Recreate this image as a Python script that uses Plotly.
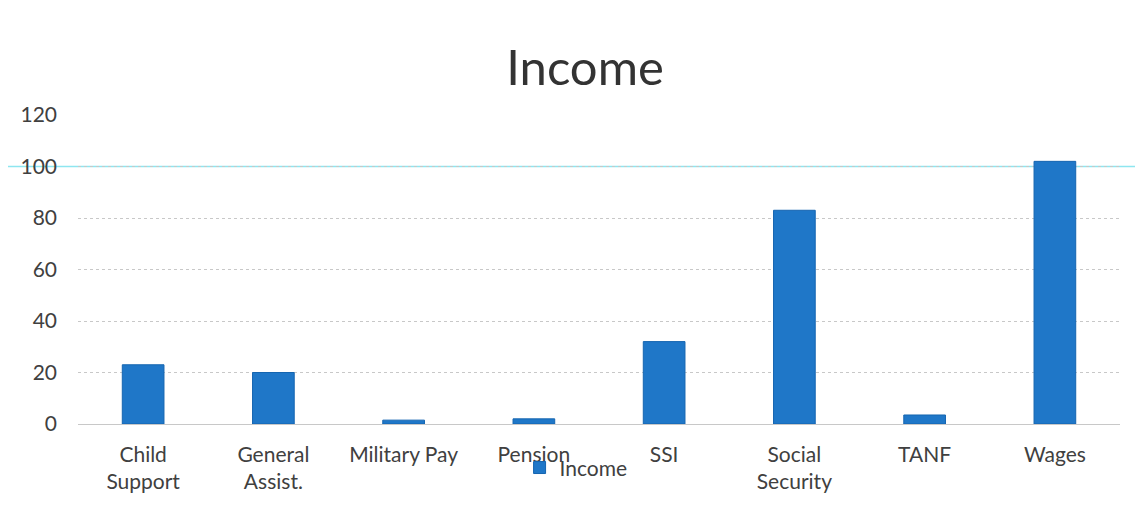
import plotly.graph_objects as go

categories = ["Child<br>Support", "General<br>Assist.", "Military Pay", "Pension",
              "SSI", "Social<br>Security", "TANF", "Wages"]
income = [23, 20, 1.5, 2, 32, 83, 3.5, 102]
y_ticks = [0, 20, 40, 60, 80, 100, 120]

font_family = "Lato, 'Open Sans', sans-serif"
txt = "#404040"

fig = go.Figure()
fig.add_trace(go.Bar(
    x=categories, y=income, name="Income",
    marker=dict(color="#1f77c8", line=dict(color="#1565b0", width=1)),
))

fig.update_layout(
    width=1127, height=497,
    margin=dict(l=62, r=15, t=107, b=81),
    paper_bgcolor="white", plot_bgcolor="white",
    font=dict(family=font_family, color=txt, size=21),
    title=dict(text="Income", x=0.512, xanchor="center", y=0.879, yanchor="middle",
               font=dict(size=49, color="#333333", family=font_family)),
    bargap=0.68,
    showlegend=True,
    legend=dict(orientation="h", x=0.478, xanchor="center", y=-0.142, yanchor="middle",
                font=dict(size=21, color=txt), bgcolor="rgba(0,0,0,0)",
                itemwidth=30),
    xaxis=dict(showgrid=False, showline=False, ticks="", tickfont=dict(size=21, color=txt),
               tickangle=0, ticklabelstandoff=16),
    yaxis=dict(range=[0, 120], tickvals=y_ticks, showgrid=True,
               gridcolor="#c8c8c8", griddash="dot", gridwidth=1,
               zeroline=True, zerolinecolor="#c8c8c8", zerolinewidth=1,
               showline=False, ticks="", ticklabelstandoff=20,
               tickfont=dict(size=21, color=txt)),
)

fig.add_shape(type="line", xref="paper", yref="y", x0=-0.1, x1=1.03, y0=100, y1=100,
              line=dict(color="#8ee6f0", width=1.5), layer="below")

fig.write_html("out.html")
